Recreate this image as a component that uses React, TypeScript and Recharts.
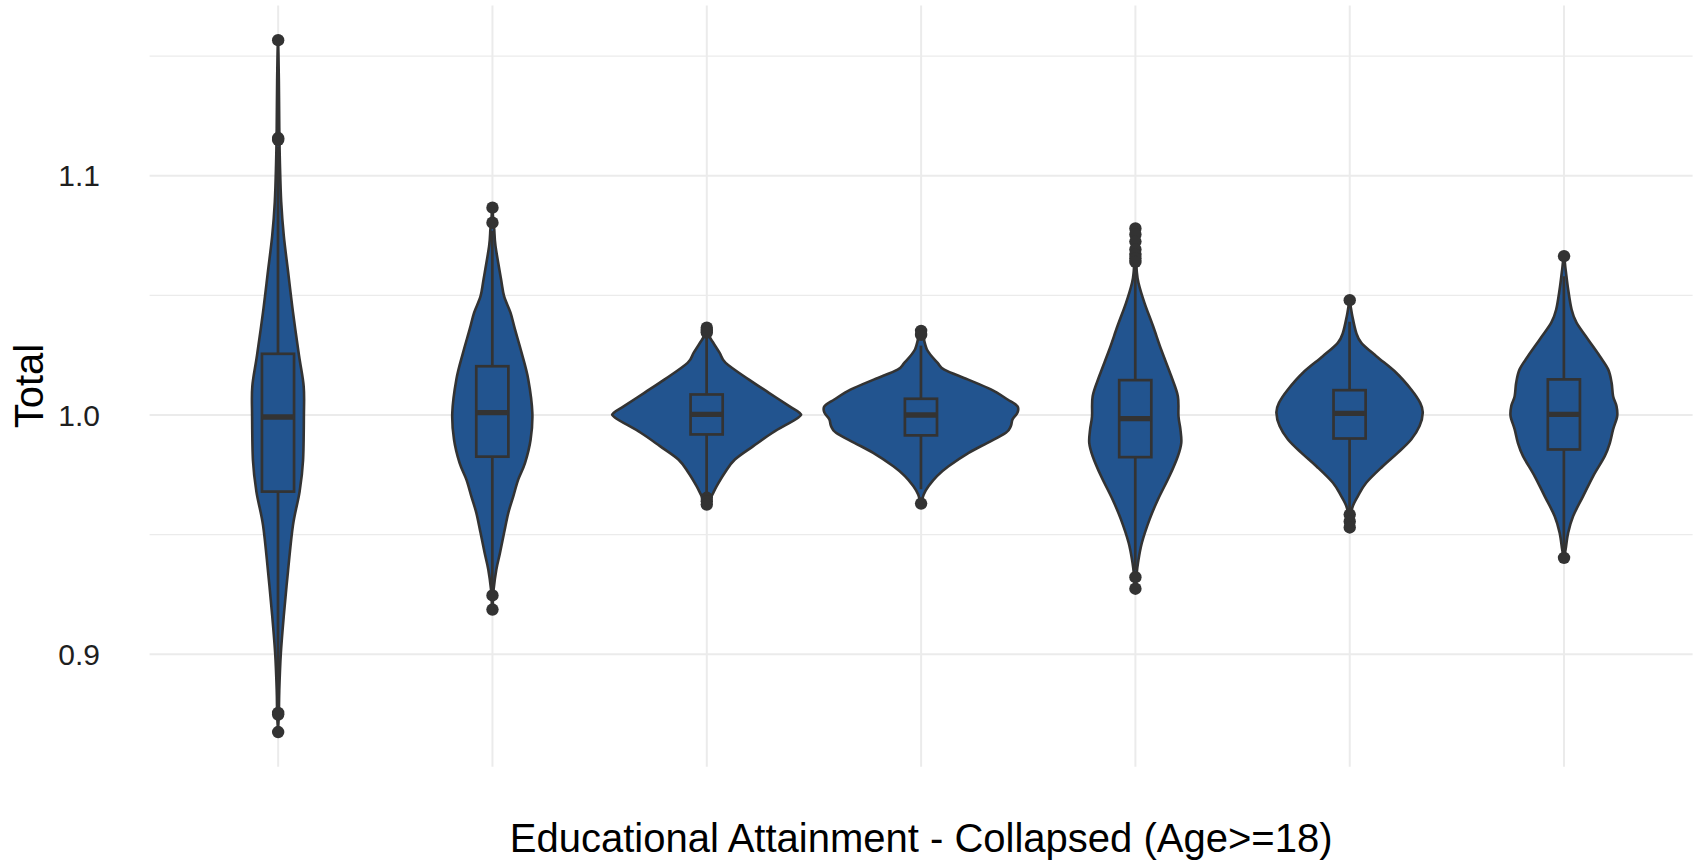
import React from 'react';
import { ComposedChart, Bar, Scatter, XAxis, YAxis, CartesianGrid, Label } from 'recharts';

// Education levels (collapsed), adults aged 18+
const categories = [
  'Less than high school',
  'High school graduate',
  'Some college',
  "Associate's degree",
  "Bachelor's degree",
  "Master's degree",
  'Doctorate / professional',
];

// Violin outlines: [Total, half-width as a share of the category step]
const densityLessHS: [number, number][] = [
  [1.1567, 0], [1.14, 0.004], [1.12, 0.006], [1.105, 0.009], [1.089, 0.015], [1.075, 0.027],
  [1.06, 0.047], [1.043, 0.07], [1.025, 0.098], [1.012, 0.12], [1.0, 0.121], [0.981, 0.117],
  [0.968, 0.101], [0.954, 0.07], [0.935, 0.047], [0.916, 0.027], [0.9, 0.013], [0.885, 0.006],
  [0.875, 0.004], [0.8675, 0],
];
const densityHighSchool: [number, number][] = [
  [1.0867, 0], [1.0804, 0.005], [1.0776, 0.009], [1.0706, 0.015], [1.0567, 0.041], [1.0497, 0.055],
  [1.0428, 0.085], [1.0358, 0.106], [1.026, 0.137], [1.0149, 0.168], [1.001, 0.187], [0.9898, 0.179],
  [0.98, 0.153], [0.973, 0.121], [0.966, 0.098], [0.9592, 0.075], [0.9508, 0.055], [0.9424, 0.036],
  [0.9355, 0.019], [0.927, 0.006], [0.9187, 0],
];
const densitySomeCollege: [number, number][] = [
  [1.0365, 0], [1.033, 0.012], [1.0302, 0.031], [1.026, 0.061], [1.0218, 0.089], [1.0149, 0.196],
  [1.0093, 0.291], [1.0037, 0.386], [1.001, 0.433], [0.999, 0.429], [0.9926, 0.308], [0.987, 0.218],
  [0.9814, 0.132], [0.9759, 0.085], [0.9703, 0.047], [0.9661, 0.023], [0.9626, 0],
];
const densityAssociate: [number, number][] = [
  [1.0352, 0], [1.0274, 0.028], [1.0218, 0.078], [1.019, 0.109], [1.0149, 0.218], [1.0107, 0.327],
  [1.0065, 0.405], [1.0037, 0.451], [1.001, 0.451], [0.9982, 0.428], [0.9954, 0.42], [0.9926, 0.397],
  [0.9884, 0.311], [0.9842, 0.223], [0.9786, 0.129], [0.9745, 0.075], [0.9703, 0.036], [0.9668, 0.013],
  [0.963, 0],
];
const densityBachelor: [number, number][] = [
  [1.078, 0], [1.066, 0.004], [1.0602, 0.007], [1.0553, 0.015], [1.0469, 0.043], [1.0372, 0.083],
  [1.0274, 0.121], [1.0163, 0.168], [1.0079, 0.199], [0.9995, 0.202], [0.994, 0.211], [0.9884, 0.215],
  [0.9828, 0.199], [0.9745, 0.16], [0.9647, 0.106], [0.9564, 0.067], [0.9466, 0.031], [0.9383, 0.013],
  [0.9322, 0.005], [0.9274, 0],
];
const densityMaster: [number, number][] = [
  [1.048, 0], [1.0455, 0.005], [1.0413, 0.013], [1.0344, 0.031], [1.0302, 0.055], [1.0246, 0.125],
  [1.0177, 0.218], [1.0107, 0.288], [1.0051, 0.33], [1.001, 0.342], [0.9954, 0.327], [0.9898, 0.288],
  [0.9842, 0.225], [0.9786, 0.155], [0.9717, 0.078], [0.9661, 0.039], [0.9619, 0.015], [0.9577, 0.005],
  [0.9522, 0],
];
const densityDoctorate: [number, number][] = [
  [1.0664, 0], [1.0609, 0.008], [1.0525, 0.02], [1.0441, 0.036], [1.0386, 0.059], [1.0316, 0.113],
  [1.0246, 0.168], [1.0191, 0.207], [1.0135, 0.223], [1.0079, 0.23], [1.0037, 0.246], [0.9995, 0.249],
  [0.994, 0.23], [0.9884, 0.215], [0.9828, 0.191], [0.9745, 0.137], [0.9661, 0.09], [0.9577, 0.043],
  [0.9508, 0.02], [0.9438, 0.008], [0.9403, 0],
];

// Box-plot summaries
const lowerQuartile = [0.968, 0.9826, 0.9919, 0.9915, 0.9824, 0.9902, 0.9856];
const medians = [0.9992, 1.001, 1.0003, 1.0, 0.9985, 1.0007, 1.0003];
const upperQuartile = [1.0256, 1.0204, 1.0086, 1.0068, 1.0146, 1.0104, 1.0149];
const whiskerLow = [0.882, 0.927, 0.967, 0.969, 0.935, 0.96, 0.942];
const whiskerHigh = [1.112, 1.077, 1.033, 1.029, 1.062, 1.039, 1.058];

const outliers: number[][] = [
  [1.1567, 1.1158, 1.115, 0.8755, 0.8748, 0.8675],
  [1.0867, 1.0804, 0.9246, 0.9187],
  [1.0365, 1.0352, 1.0345, 0.9654, 0.964, 0.9626],
  [1.0352, 1.0335, 0.963],
  [1.078, 1.0755, 1.0725, 1.0692, 1.067, 1.0655, 1.064, 0.9322, 0.9274],
  [1.048, 0.9584, 0.9555, 0.953],
  [1.0664, 0.9403],
];

const yTicks = [0.9, 1.0, 1.1];
const yMinorTicks = [0.95, 1.05, 1.15];
const yDomain: [number, number] = [0.853, 1.1712];

const profiles = [
  densityLessHS, densityHighSchool, densitySomeCollege, densityAssociate,
  densityBachelor, densityMaster, densityDoctorate,
];

const chartData = categories.map((cat, i) => {
  const vals = profiles[i].map((p) => p[0]);
  return {
    cat,
    range: [Math.min(...vals), Math.max(...vals)],
    profile: profiles[i],
    q1: lowerQuartile[i],
    median: medians[i],
    q3: upperQuartile[i],
    lo: whiskerLow[i],
    hi: whiskerHigh[i],
  };
});

const outlierData = categories.flatMap((cat, i) => outliers[i].map((v) => ({ cat, v })));

const FILL = '#22548f';
const INK = '#333333';
const FONT = '"Liberation Sans", Arial, Helvetica, sans-serif';
const BOX_WIDTH = 0.15;

type Pt = { x: number; y: number };

function closedCurve(pts: Pt[]): string {
  const n = pts.length;
  let d = `M${pts[0].x},${pts[0].y}`;
  for (let i = 0; i < n; i++) {
    const p0 = pts[(i - 1 + n) % n];
    const p1 = pts[i];
    const p2 = pts[(i + 1) % n];
    const p3 = pts[(i + 2) % n];
    const c1x = p1.x + (p2.x - p0.x) / 6;
    const c1y = p1.y + (p2.y - p0.y) / 6;
    const c2x = p2.x - (p3.x - p1.x) / 6;
    const c2y = p2.y - (p3.y - p1.y) / 6;
    d += `C${c1x},${c1y} ${c2x},${c2y} ${p2.x},${p2.y}`;
  }
  return d + 'Z';
}

// Draws violin + box plot inside the band given by a range bar [min, max]
const ViolinShape = (props: any) => {
  const { x, y, width, height, payload } = props;
  if (!payload || !Number.isFinite(y) || !Number.isFinite(height)) return null;
  const [lo, hi] = payload.range as number[];
  const toY = (v: number) => y + ((hi - v) / (hi - lo)) * height;
  const cx = x + width / 2;
  const prof: [number, number][] = payload.profile;

  const right: Pt[] = prof.map(([v, w]) => ({ x: cx + w * width, y: toY(v) }));
  const left: Pt[] = prof
    .slice(1, prof.length - 1)
    .reverse()
    .map(([v, w]) => ({ x: cx - w * width, y: toY(v) }));
  const outline = closedCurve([...right, ...left]);

  const bw = BOX_WIDTH * width;
  const yQ1 = toY(payload.q1);
  const yQ3 = toY(payload.q3);
  const yMed = toY(payload.median);

  return (
    <g>
      <path d={outline} fill={FILL} stroke={INK} strokeWidth={2.6} strokeLinejoin="round" />
      <line x1={cx} x2={cx} y1={toY(payload.hi)} y2={yQ3} stroke={INK} strokeWidth={2.7} />
      <line x1={cx} x2={cx} y1={yQ1} y2={toY(payload.lo)} stroke={INK} strokeWidth={2.7} />
      <rect x={cx - bw / 2} y={yQ3} width={bw} height={yQ1 - yQ3} fill={FILL} stroke={INK} strokeWidth={2.7} />
      <line x1={cx - bw / 2} x2={cx + bw / 2} y1={yMed} y2={yMed} stroke={INK} strokeWidth={5.4} />
    </g>
  );
};

const OutlierDot = (props: any) => {
  const { cx, cy } = props;
  if (!Number.isFinite(cx) || !Number.isFinite(cy)) return null;
  return <circle cx={cx} cy={cy} r={6.2} fill={INK} />;
};

// Category names are not printed; the tick still drives the vertical grid
const HiddenTick = () => <g />;

const YTitle = (props: any) => {
  const vb = props.viewBox || { x: 0, y: 0, width: 0, height: 0 };
  const tx = vb.x + 43;
  const ty = vb.y + vb.height / 2;
  return (
    <text
      x={tx}
      y={ty}
      transform={`rotate(-90 ${tx} ${ty})`}
      textAnchor="middle"
      fontSize={40}
      fill="#000"
      fontFamily={FONT}
    >
      Total
    </text>
  );
};

const XTitle = (props: any) => {
  const vb = props.viewBox || { x: 0, y: 0, width: 0, height: 0 };
  return (
    <text
      x={vb.x + vb.width / 2}
      y={vb.y + 85}
      textAnchor="middle"
      fontSize={40}
      fill="#000"
      fontFamily={FONT}
    >
      Educational Attainment - Collapsed (Age&gt;=18)
    </text>
  );
};

export default function App() {
  return (
    <div style={{ position: 'absolute', left: 0, top: 0, width: 1697, height: 861, background: '#fff' }}>
      <ComposedChart
        width={1697}
        height={861}
        data={chartData}
        margin={{ top: 5.5, right: 4.4, bottom: 0, left: 0 }}
        barCategoryGap={0}
        barGap={0}
      >
        <CartesianGrid stroke="#ebebeb" strokeWidth={1.2} vertical={false} horizontalValues={yMinorTicks} syncWithTicks />
        <CartesianGrid stroke="#ebebeb" strokeWidth={2} syncWithTicks />
        <XAxis
          dataKey="cat"
          type="category"
          allowDuplicatedCategory={false}
          tick={<HiddenTick />}
          interval={0}
          tickLine={false}
          axisLine={false}
          height={94.3}
          padding={{ left: 21.4, right: 21.4 }}
        >
          <Label content={XTitle} />
        </XAxis>
        <YAxis
          type="number"
          domain={yDomain}
          ticks={yTicks}
          allowDataOverflow
          tickFormatter={(v: number) => v.toFixed(1)}
          tickLine={false}
          axisLine={false}
          tickSize={0}
          tickMargin={49.6}
          width={149.6}
          tick={{ fontSize: 30, fill: '#1f1f1f', fontFamily: FONT }}
        >
          <Label content={YTitle} />
        </YAxis>
        <Bar dataKey="range" shape={<ViolinShape />} isAnimationActive={false} />
        <Scatter data={outlierData} dataKey="v" shape={<OutlierDot />} isAnimationActive={false} />
      </ComposedChart>
    </div>
  );
}
